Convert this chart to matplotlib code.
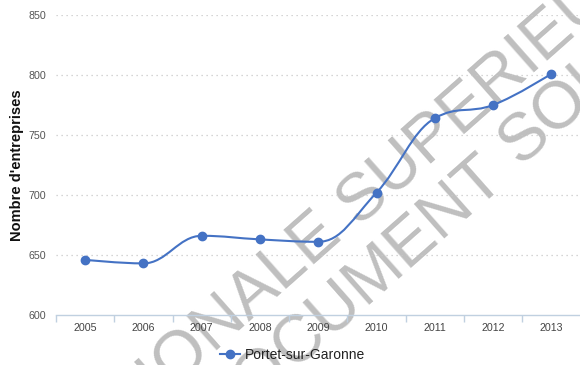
import math

import matplotlib

matplotlib.use("Agg")
import matplotlib.pyplot as plt
from matplotlib.lines import Line2D
from matplotlib.path import Path
from matplotlib.patches import PathPatch

years = ["2005", "2006", "2007", "2008", "2009", "2010", "2011", "2012", "2013"]
entreprises = [646, 643, 666, 663, 661, 702, 764, 775, 801]
series_name = "Portet-sur-Garonne"
y_ticks = [600, 650, 700, 750, 800, 850]

LINE_COLOR = "#4472C4"
AXIS_COLOR = "#C0D0E0"
W, H = 580, 365


def spline_path(xs, ys, smoothing=1.5):
    """Highcharts-style spline: cubic segments with collinear control points."""
    denom = smoothing + 1
    n = len(xs)
    left = [None] * n
    right = [None] * n
    for i in range(1, n - 1):
        px, py = xs[i], ys[i]
        lx, ly = xs[i - 1], ys[i - 1]
        nx, ny = xs[i + 1], ys[i + 1]
        lcx = (smoothing * px + lx) / denom
        lcy = (smoothing * py + ly) / denom
        rcx = (smoothing * px + nx) / denom
        rcy = (smoothing * py + ny) / denom
        corr = (rcy - lcy) * (rcx - px) / (rcx - lcx) + py - rcy
        lcy += corr
        rcy += corr
        if lcy > ly and lcy > py:
            lcy = max(ly, py)
            rcy = 2 * py - lcy
        elif lcy < ly and lcy < py:
            lcy = min(ly, py)
            rcy = 2 * py - lcy
        if rcy > ny and rcy > py:
            rcy = max(ny, py)
            lcy = 2 * py - rcy
        elif rcy < ny and rcy < py:
            rcy = min(ny, py)
            lcy = 2 * py - rcy
        left[i] = (lcx, lcy)
        right[i] = (rcx, rcy)

    verts = [(xs[0], ys[0])]
    codes = [Path.MOVETO]
    for i in range(1, n):
        c1 = right[i - 1] or (xs[i - 1], ys[i - 1])
        c2 = left[i] or (xs[i], ys[i])
        verts += [c1, c2, (xs[i], ys[i])]
        codes += [Path.CURVE4] * 3
    return Path(verts, codes)


fig = plt.figure(figsize=(W / 100, H / 100), dpi=100)
ax = fig.add_axes([56 / W, 50 / H, 524.5 / W, 300 / H])
ax.patch.set_alpha(0)
ax.set_zorder(2)

x = list(range(len(years)))
ax.add_patch(PathPatch(spline_path(x, entreprises), facecolor="none",
                       edgecolor=LINE_COLOR, linewidth=1.5, zorder=4,
                       clip_on=False))
ax.plot(x, entreprises, linestyle="none", marker="o", markersize=6,
        color=LINE_COLOR, zorder=5, clip_on=False)

ax.set_xlim(-0.5, len(years) - 0.5)
ax.set_ylim(y_ticks[0], y_ticks[-1])
ax.set_yticks(y_ticks)
ax.set_xticks(x)
ax.set_xticklabels(years)
ax.set_xticks([i - 0.5 for i in range(len(years) + 1)], minor=True)

for yv in y_ticks[1:]:
    ax.axhline(yv, color="#C8C8C8", linewidth=0.9, linestyle=(0, (1, 3)),
               zorder=1)

for side in ("top", "right", "left"):
    ax.spines[side].set_visible(False)
ax.spines["bottom"].set_color(AXIS_COLOR)
ax.spines["bottom"].set_linewidth(1.0)

ax.tick_params(axis="x", which="major", length=0, pad=6, labelsize=7.7,
               labelcolor="#444444")
ax.tick_params(axis="x", which="minor", length=5, color=AXIS_COLOR, width=1)
ax.tick_params(axis="y", length=0, pad=7, labelsize=7.7, labelcolor="#555555")
for lbl in ax.get_xticklabels() + ax.get_yticklabels():
    lbl.set_fontfamily("Liberation Sans")

fig.text(17 / W, 1 - 165 / H, "Nombre d'entreprises", rotation=90,
         ha="center", va="center", fontsize=10.5, fontweight="bold",
         family="Liberation Sans", color="#111111")

handle = Line2D([], [], color=LINE_COLOR, linewidth=1.5, marker="o",
                markersize=6)
leg = fig.legend([handle], [series_name], loc="center",
                 bbox_to_anchor=(293 / W, 1 - 355 / H), frameon=False,
                 handlelength=1.4, handletextpad=0.4, borderpad=0,
                 prop={"family": "Liberation Sans", "size": 10})
for t in leg.get_texts():
    t.set_color("#222222")

# diagonal watermark behind the chart; each line is split at its space so
# both halves share one baseline point (pixel coords from the top-left)
angle = 41.5
ux, uy = math.cos(math.radians(angle)), -math.sin(math.radians(angle))
wm = dict(rotation=angle, rotation_mode="anchor", va="baseline", fontsize=48,
          color="#BFBFBF", family="Liberation Sans", zorder=0)
gap = 9
for (bx, by), first, second in [((351, 233), "ECOLE NATIONALE", "SUPERIEURE"),
                                ((513, 173), "DOCUMENT", "SOUMIS")]:
    fig.text((bx - gap * ux) / W, 1 - (by - gap * uy) / H, first,
             ha="right", **wm)
    fig.text((bx + gap * ux) / W, 1 - (by + gap * uy) / H, second,
             ha="left", **wm)

fig.savefig("out.png", dpi=100)
